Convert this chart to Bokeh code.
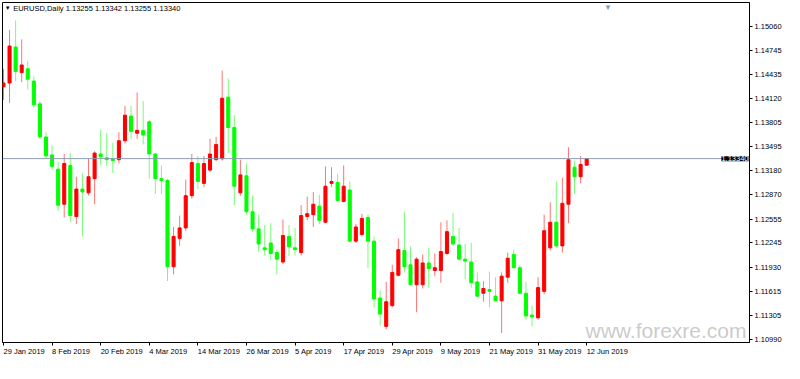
import numpy as np
from bokeh.plotting import figure
from bokeh.models import (Range1d, FixedTicker, NumeralTickFormatter, Span, Label,
                          ColumnDataSource)
from bokeh.embed import file_html
from bokeh.resources import INLINE

# ---- data (EURUSD daily) ----
SYMBOL = "EURUSD,Daily"
OPEN = [1.14273, 1.14322, 1.14789, 1.14457, 1.14506, 1.14347, 1.14051, 1.13621, 1.13388, 1.13203,
        1.12748, 1.13252, 1.12588, 1.12945, 1.12896, 1.13080, 1.13400, 1.13351, 1.13338, 1.13326,
        1.13572, 1.13892, 1.13670, 1.13707, 1.13818, 1.13400, 1.13080, 1.13056, 1.11937, 1.12305,
        1.12441, 1.12859, 1.13277, 1.13019, 1.13191, 1.13326, 1.13338, 1.14138, 1.13744, 1.12896,
        1.13117, 1.12650, 1.12428, 1.12182, 1.12244, 1.12121, 1.11998, 1.12330, 1.12182, 1.12121,
        1.12588, 1.12613, 1.12724, 1.12514, 1.13019, 1.13031, 1.12785, 1.12933, 1.12269, 1.12355,
        1.12576, 1.12269, 1.11531, 1.11162, 1.11432, 1.11826, 1.12146, 1.11961, 1.11703, 1.11703,
        1.11986, 1.11887, 1.11887, 1.12109, 1.12330, 1.12219, 1.12035, 1.11998, 1.11740, 1.11592,
        1.11641, 1.11555, 1.11494, 1.11801, 1.12096, 1.11924, 1.11592, 1.11309, 1.11273, 1.11617,
        1.12182, 1.12514, 1.12207, 1.12748, 1.13228, 1.13105, 1.13255]
HIGH = [1.14506, 1.15011, 1.15134, 1.14888, 1.14605, 1.14408, 1.14088, 1.13683, 1.13510, 1.13301,
        1.13400, 1.13412, 1.13105, 1.13154, 1.13338, 1.13437, 1.13719, 1.13670, 1.13547, 1.13683,
        1.14027, 1.14027, 1.14199, 1.14088, 1.13842, 1.13412, 1.13252, 1.13080, 1.12453, 1.12601,
        1.13068, 1.13400, 1.13375, 1.13375, 1.13597, 1.13621, 1.14482, 1.14383, 1.13904, 1.13326,
        1.13277, 1.12859, 1.12613, 1.12478, 1.12502, 1.12158, 1.12551, 1.12478, 1.12441, 1.12736,
        1.12846, 1.12908, 1.12871, 1.13240, 1.13228, 1.13142, 1.13252, 1.13043, 1.12490, 1.12625,
        1.12613, 1.12330, 1.11629, 1.11740, 1.11961, 1.12305, 1.12650, 1.12195, 1.12060, 1.12096,
        1.12182, 1.12109, 1.12514, 1.12539, 1.12637, 1.12441, 1.12232, 1.12244, 1.11863, 1.11752,
        1.11875, 1.11801, 1.11863, 1.12121, 1.12158, 1.11961, 1.11740, 1.11432, 1.11801, 1.12613,
        1.12773, 1.13043, 1.13092, 1.13486, 1.13314, 1.13375, 1.13342]
LOW = [1.14101, 1.14064, 1.14347, 1.14334, 1.14236, 1.14002, 1.13597, 1.13351, 1.13203, 1.12662,
       1.12576, 1.12514, 1.12490, 1.12330, 1.12859, 1.12748, 1.13252, 1.13240, 1.13154, 1.13277,
       1.13535, 1.13597, 1.13597, 1.13523, 1.13080, 1.12883, 1.12883, 1.11752, 1.11838, 1.12207,
       1.12404, 1.12822, 1.12945, 1.12969, 1.13166, 1.13314, 1.13314, 1.13412, 1.12736, 1.12859,
       1.12613, 1.12392, 1.12133, 1.12084, 1.12023, 1.11838, 1.11973, 1.12072, 1.12084, 1.12084,
       1.12539, 1.12453, 1.12490, 1.12502, 1.12969, 1.12785, 1.12773, 1.12256, 1.12244, 1.12330,
       1.11924, 1.11408, 1.11174, 1.11125, 1.11408, 1.11814, 1.11863, 1.11691, 1.11346, 1.11654,
       1.11666, 1.11814, 1.11728, 1.12084, 1.12207, 1.12023, 1.11777, 1.11666, 1.11543, 1.11482,
       1.11408, 1.11494, 1.11076, 1.11728, 1.11912, 1.11580, 1.11248, 1.11162, 1.11248, 1.11580,
       1.12146, 1.12182, 1.12121, 1.12502, 1.12883, 1.13019, 1.13255]
CLOSE = [1.14322, 1.14802, 1.14470, 1.14556, 1.14371, 1.14039, 1.13621, 1.13375, 1.13240, 1.12736,
         1.13277, 1.12601, 1.12945, 1.12908, 1.13105, 1.13412, 1.13363, 1.13326, 1.13314, 1.13572,
         1.13904, 1.13695, 1.13707, 1.13646, 1.13400, 1.13080, 1.13056, 1.11937, 1.12330, 1.12441,
         1.12859, 1.13289, 1.13043, 1.13277, 1.13400, 1.13523, 1.14125, 1.13744, 1.12982, 1.13129,
         1.12650, 1.12428, 1.12232, 1.12158, 1.12109, 1.12035, 1.12342, 1.12195, 1.12158, 1.12601,
         1.12625, 1.12748, 1.12539, 1.12982, 1.13043, 1.12797, 1.12982, 1.12269, 1.12453, 1.12564,
         1.12269, 1.11519, 1.11322, 1.11482, 1.11863, 1.12158, 1.11937, 1.11703, 1.12035, 1.11986,
         1.11912, 1.11924, 1.12133, 1.12392, 1.12232, 1.12035, 1.12010, 1.11728, 1.11555, 1.11654,
         1.11617, 1.11494, 1.11814, 1.12047, 1.11924, 1.11592, 1.11297, 1.11285, 1.11666, 1.12404,
         1.12514, 1.12207, 1.12760, 1.13326, 1.13105, 1.13265, 1.13340]
X_TICK_LABELS = ["29 Jan 2019", "8 Feb 2019", "20 Feb 2019", "4 Mar 2019", "14 Mar 2019",
                 "26 Mar 2019", "5 Apr 2019", "17 Apr 2019", "29 Apr 2019", "9 May 2019",
                 "21 May 2019", "31 May 2019", "12 Jun 2019"]
X_TICK_STEP = 8
Y_TICKS = [1.15060, 1.14745, 1.14435, 1.14120, 1.13805, 1.13495, 1.13180, 1.12870,
           1.12555, 1.12245, 1.11930, 1.11615, 1.11305, 1.10990]

FONT = "Liberation Sans"
FS = "7.5px"
X_START, X_END = -0.16, 122.8
Y_START, Y_END = 1.10953, 1.15367

n = len(OPEN)
o, h, l, c = (np.array(a) for a in (OPEN, HIGH, LOW, CLOSE))
up = c >= o
src = ColumnDataSource(dict(
    x=np.arange(n), top=np.maximum(o, c), bottom=np.minimum(o, c), high=h, low=l,
    body=np.where(up, "#ff0000", "#00ff00"),
    wick=np.where(up, "#ff7575", "#75ff75"),
))

p = figure(width=784, height=363, output_backend="svg", toolbar_location=None,
           x_range=Range1d(X_START, X_END), y_range=Range1d(Y_START, Y_END),
           y_axis_location="right", min_border_left=2, min_border_top=2,
           min_border_right=0, min_border_bottom=16,
           background_fill_color="white", border_fill_color="white")
p.grid.visible = False
p.outline_line_color = "black"
p.outline_line_width = 1

p.segment(x0="x", y0="high", x1="x", y1="low", line_color="wick", line_width=1, source=src)
p.vbar(x="x", top="top", bottom="bottom", width=0.5, fill_color="body",
       line_color="body", line_width=1, source=src)

p.add_layout(Span(location=CLOSE[-1], dimension="width", line_color="#8c9cb0", line_width=1))

yax = p.yaxis[0]
yax.ticker = FixedTicker(ticks=Y_TICKS)
yax.formatter = NumeralTickFormatter(format="0.00000")
yax.major_tick_in = 0
yax.major_tick_out = 3
yax.minor_tick_out = 0
yax.minor_tick_in = 0
yax.major_label_standoff = 2
yax.major_label_text_font = FONT
yax.major_label_text_font_size = FS
yax.major_label_text_color = "black"
yax.axis_line_color = "black"
yax.major_tick_line_color = "black"

# x axis: date labels start at their tick (tiny numeric orientation -> left aligned)
tick_idx = [i * X_TICK_STEP for i in range(len(X_TICK_LABELS))]
xax = p.xaxis[0]
xax.ticker = FixedTicker(ticks=tick_idx)
xax.major_label_overrides = {t: lab for t, lab in zip(tick_idx, X_TICK_LABELS)}
xax.major_label_orientation = -0.0001
xax.major_label_standoff = 6
xax.major_label_text_font = FONT
xax.major_label_text_font_size = FS
xax.major_label_text_color = "black"
xax.major_tick_in = 0
xax.major_tick_out = 3
xax.minor_tick_out = 0
xax.minor_tick_in = 0
xax.axis_line_color = "black"

# current price tag
p.add_layout(Label(x=X_END, y=CLOSE[-1], x_offset=-1, text=f"{CLOSE[-1]:.5f}",
                   text_align="right", text_baseline="middle", text_font=FONT,
                   text_font_size=FS, text_color="white", background_fill_color="black"))

# header
p.add_layout(Label(x=0.2, y=1.15290, text="▼", text_baseline="middle", text_font_size="6px",
                   text_color="black"))
p.add_layout(Label(x=1.6, y=1.15285,
                   text=f"{SYMBOL}  {OPEN[-1]:.5f} {HIGH[-1]:.5f} {LOW[-1]:.5f} {CLOSE[-1]:.5f}",
                   text_baseline="middle", text_font=FONT, text_font_size=FS, text_color="black"))
# chart shift marker
p.add_layout(Label(x=99.5, y=Y_END, text="▼", text_align="center", text_baseline="top",
                   text_font_size="8px", text_color="#8c9cb0"))
# watermark
p.add_layout(Label(x=X_END, y=Y_START, x_offset=-3, y_offset=1, text="www.forexre.com",
                   text_align="right", text_baseline="bottom", text_font=FONT,
                   text_font_size="21px", text_color="#a8a8a8", text_alpha=0.6))

open("out.html", "w").write(file_html(p, INLINE))
